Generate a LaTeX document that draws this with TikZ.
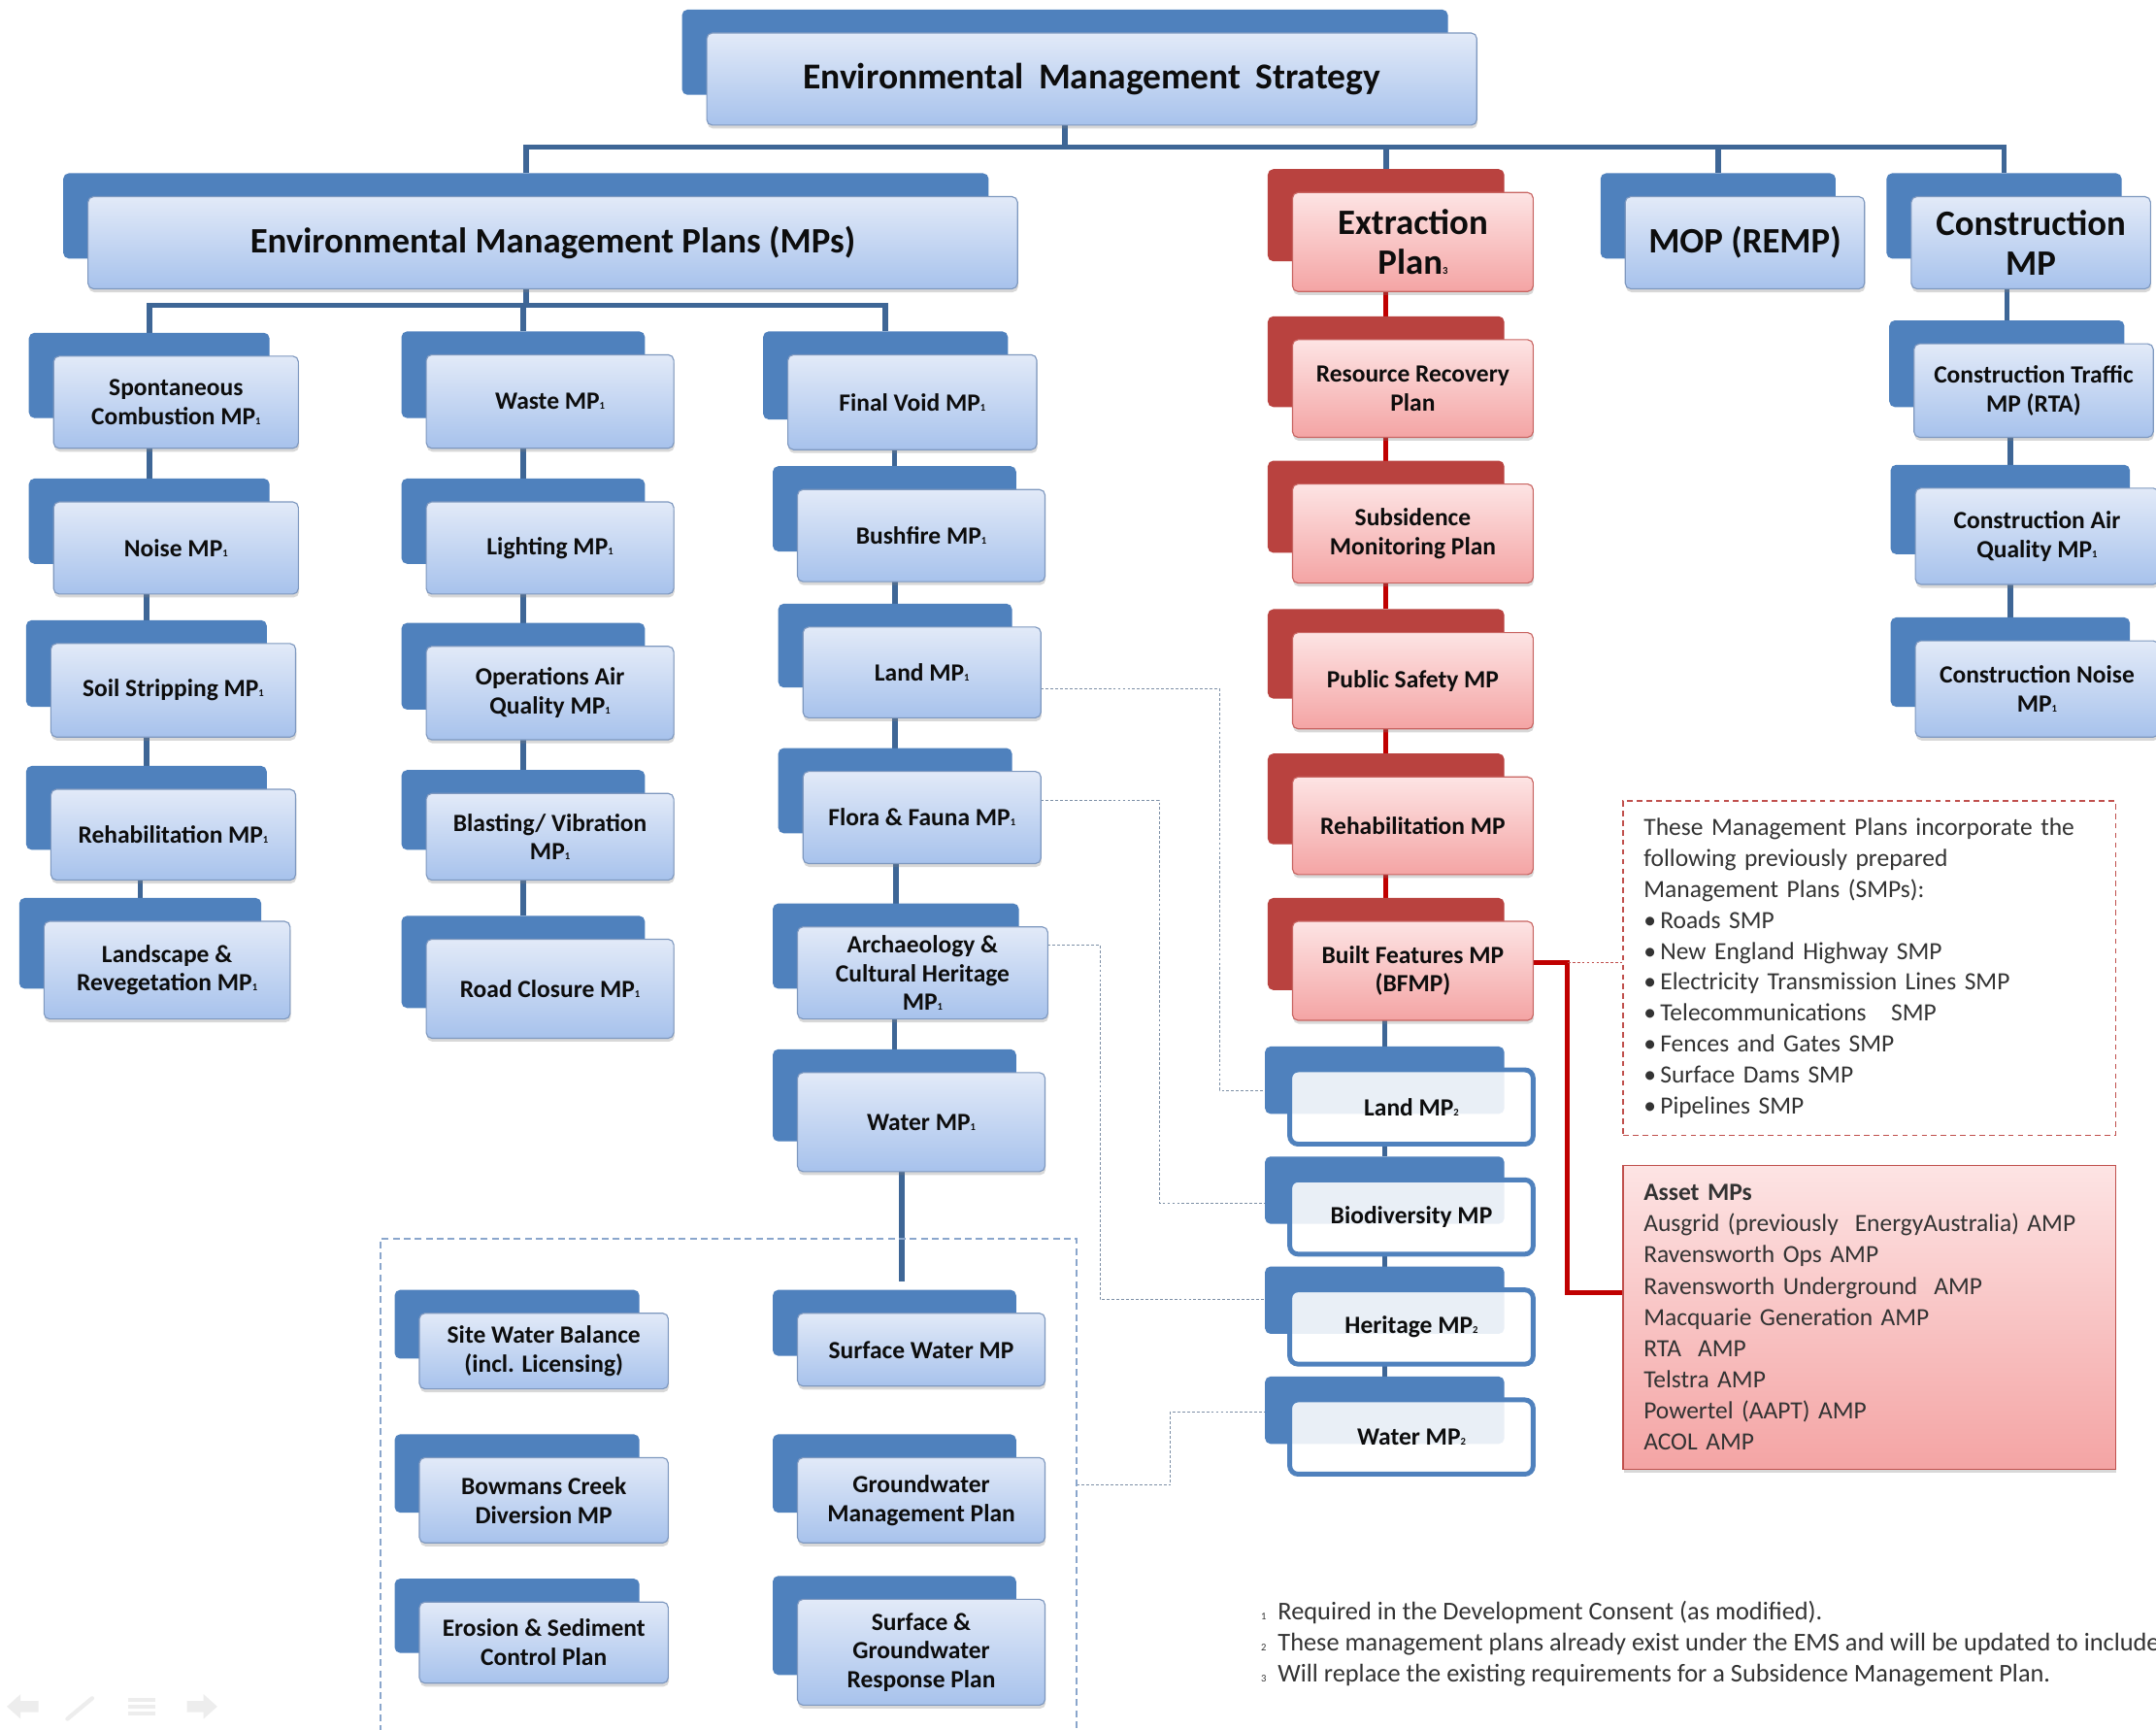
\documentclass[tikz,border=0pt]{standalone}
\usepackage{fontspec}
\setmainfont{Carlito}
\usetikzlibrary{shadows,calc}
\pgfdeclarelayer{bg}
\pgfsetlayers{bg,main}

\definecolor{tabblue}{HTML}{4F81BD}
\definecolor{linkblue}{HTML}{3E6696}
\definecolor{faceTop}{HTML}{E2EAF8}
\definecolor{faceBot}{HTML}{A7C2EC}
\definecolor{faceRim}{HTML}{7E98BF}
\definecolor{tabred}{HTML}{B9423F}
\definecolor{redTop}{HTML}{FDE4E4}
\definecolor{redBot}{HTML}{F4A4A4}
\definecolor{redRim}{HTML}{C86461}
\definecolor{linkred}{HTML}{C00000}
\definecolor{dashgrey}{HTML}{7D8FA6}
\definecolor{boxdash}{HTML}{8AA6CC}
\definecolor{notered}{HTML}{C0504D}
\definecolor{notecol}{HTML}{333333}
\definecolor{navgrey}{HTML}{EDEDED}

% small index digit used for the footnote markers
\newcommand\ix[1]{{\fontsize{7.5}{7.5}\selectfont #1}}

% a plan box: dark tab behind, shaded face in front
% [extra face options]{kind}{name}{left}{top}{right}{bottom}{label}
\newcommand\mpbox[8][]{%
  \node[#2 tab, minimum width={#6-#4-3}, minimum height={#7-#5-5}] (#3T) at ({#4-18},{#5-17}) {};
  \node[#2 face, minimum width={#6-#4}, minimum height={#7-#5}, #1] (#3) at (#4,#5) {#8};}

\tikzset{
  tab/.style={anchor=north west, rounded corners=4pt, inner sep=0pt, outer sep=0pt},
  face/.style={anchor=north west, rounded corners=4pt, inner sep=0pt, outer sep=0pt,
    align=center, font=\fontsize{18}{21}\selectfont\bfseries, text=black!95},
  boxshadow/.style={drop shadow={shadow xshift=0.5pt, shadow yshift=-2.5pt, opacity=0.3}},
  blue tab/.style={tab, fill=tabblue},
  blue face/.style={face, top color=faceTop, bottom color=faceBot, draw=faceRim,
    line width=0.8pt, boxshadow},
  red tab/.style={tab, fill=tabred},
  red face/.style={face, top color=redTop, bottom color=redBot, draw=redRim,
    line width=0.8pt, boxshadow},
  rim tab/.style={tab, fill=tabblue},
  rim face/.style={face, fill=white, fill opacity=0.88, text opacity=1, draw=tabblue,
    line width=3.5pt, rounded corners=6pt},
  head/.style={font=\fontsize{26}{29}\selectfont\bfseries},
  tophead/.style={font=\fontsize{26.5}{29}\selectfont\bfseries},
  link/.style={draw=linkblue, line width=4pt},
  redlink/.style={draw=linkred, line width=3.5pt},
  dlink/.style={draw=dashgrey, line width=0.8pt, dash pattern=on 2pt off 1.5pt},
  reddash/.style={draw=notered, line width=0.8pt, dash pattern=on 2pt off 1.5pt},
  group/.style={anchor=north west, draw=boxdash, line width=1.3pt,
    dash pattern=on 5pt off 3pt, inner sep=0pt},
  notebox/.style={anchor=north west, draw=notered, line width=1pt,
    dash pattern=on 4pt off 3pt, inner xsep=15pt, inner ysep=0pt, align=left,
    text width=328pt, font=\fontsize{18}{22.5}\selectfont, text=notecol},
  assetbox/.style={anchor=north west, top color=redTop, bottom color=redBot,
    draw=notered, line width=0.8pt, boxshadow, inner xsep=15pt, inner ysep=0pt,
    align=left, text width=328pt, font=\fontsize{18}{22.6}\selectfont, text=notecol},
  footnotes/.style={anchor=north west, inner sep=0pt, align=left,
    font=\fontsize{18.6}{22.6}\selectfont, text=notecol},
}

\begin{document}
\begin{tikzpicture}[x=1pt, y=-1pt]
\useasboundingbox (0,0) rectangle (1568,1258);
\begin{pgfonlayer}{bg}
  \fill[white] (0,0) rectangle (1568,1258);
\end{pgfonlayer}
\clip (0,0) rectangle (1568,1258);

% ---------- top of the hierarchy ----------
\mpbox[tophead]{blue}{ems}{514}{24}{1074}{91}{Environmental\hspace{0.4em}Management\hspace{0.4em}Strategy}
\mpbox[head]{blue}{emp}{64}{143}{740}{210}{Environmental Management Plans (MPs)}
\mpbox[head]{red}{ext}{940}{140}{1115}{212}{Extraction\\Plan\ix{3}}
\mpbox[head]{blue}{mop}{1182}{143}{1356}{210}{MOP (REMP)}
\mpbox[head]{blue}{con}{1390}{143}{1564}{210}{Construction\\MP}

% ---------- environmental management plans ----------
\mpbox{blue}{sc}{39}{259}{217}{326}{Spontaneous\\Combustion MP\ix{1}}
\mpbox{blue}{noise}{39}{365}{217}{432}{Noise MP\ix{1}}
\mpbox{blue}{soil}{37}{468}{215}{536}{Soil Stripping MP\ix{1}}
\mpbox{blue}{rehab}{37}{574}{215}{640}{Rehabilitation MP\ix{1}}
\mpbox{blue}{lsr}{32}{670}{211}{741}{Landscape \&\\Revegetation MP\ix{1}}

\mpbox{blue}{waste}{310}{258}{490}{326}{Waste MP\ix{1}}
\mpbox{blue}{light}{310}{365}{490}{432}{Lighting MP\ix{1}}
\mpbox{blue}{opair}{310}{470}{490}{538}{Operations Air\\Quality MP\ix{1}}
\mpbox{blue}{blast}{310}{577}{490}{640}{Blasting/ Vibration\\MP\ix{1}}
\mpbox{blue}{road}{310}{683}{490}{755}{Road Closure MP\ix{1}}

\mpbox{blue}{fvoid}{573}{258}{754}{327}{Final Void MP\ix{1}}
\mpbox{blue}{bush}{580}{356}{760}{423}{Bushfire MP\ix{1}}
\mpbox{blue}{landA}{584}{456}{757}{522}{Land MP\ix{1}}
\mpbox{blue}{flora}{584}{561}{757}{628}{Flora \& Fauna MP\ix{1}}
\mpbox{blue}{arch}{580}{674}{762}{741}{Archaeology \&\\Cultural Heritage\\MP\ix{1}}
\mpbox{blue}{waterA}{580}{780}{760}{852}{Water MP\ix{1}}

% ---------- water plans group ----------
\node[group, minimum width=506, minimum height=370] (wgroup) at (276,900) {};
\mpbox{blue}{swb}{305}{955}{486}{1010}{Site Water Balance\\(incl. Licensing)}
\mpbox{blue}{sw}{580}{955}{760}{1008}{Surface Water MP}
\mpbox{blue}{bcd}{305}{1060}{486}{1122}{Bowmans Creek\\Diversion MP}
\mpbox{blue}{gw}{580}{1060}{760}{1122}{Groundwater\\Management Plan}
\mpbox{blue}{esc}{305}{1165}{486}{1224}{Erosion \& Sediment\\Control Plan}
\mpbox{blue}{sgr}{580}{1163}{760}{1240}{Surface \&\\Groundwater\\Response Plan}

% ---------- extraction plan ----------
\mpbox{red}{rrp}{940}{247}{1115}{318}{Resource Recovery\\Plan}
\mpbox{red}{smp}{940}{352}{1115}{424}{Subsidence\\Monitoring Plan}
\mpbox{red}{psmp}{940}{460}{1115}{530}{Public Safety MP}
\mpbox{red}{rhmp}{940}{565}{1115}{636}{Rehabilitation MP}
\mpbox{red}{bfmp}{940}{670}{1115}{742}{Built Features MP\\(BFMP)}

\mpbox{rim}{landB}{938}{778}{1115}{832}{Land MP\ix{2}}
\mpbox{rim}{bio}{938}{858}{1115}{912}{Biodiversity MP}
\mpbox{rim}{her}{938}{938}{1115}{992}{Heritage MP\ix{2}}
\mpbox{rim}{waterB}{938}{1018}{1115}{1072}{Water MP\ix{2}}

% ---------- construction ----------
\mpbox{blue}{ctr}{1392}{250}{1566}{318}{Construction Traffic\\MP (RTA)}
\mpbox{blue}{cair}{1393}{355}{1570}{425}{Construction Air\\Quality MP\ix{1}}
\mpbox{blue}{cnoise}{1393}{466}{1570}{536}{Construction Noise\\MP\ix{1}}

% ---------- notes ----------
\node[notebox, minimum height=243] (note) at (1180,582) {%
These Management Plans incorporate the\\
following previously prepared\\
Management Plans (SMPs):\\
\textbullet\,Roads SMP\\
\textbullet\,New England Highway SMP\\
\textbullet\,Electricity Transmission Lines SMP\\
\textbullet\,Telecommunications\ \ \ SMP\\
\textbullet\,Fences and Gates SMP\\
\textbullet\,Surface Dams SMP\\
\textbullet\,Pipelines SMP};

\node[assetbox, minimum height=221] (asset) at (1180,847) {%
\textbf{Asset MPs}\\
Ausgrid (previously\ \ EnergyAustralia) AMP\\
Ravensworth Ops AMP\\
Ravensworth Underground\ \ AMP\\
Macquarie Generation AMP\\
RTA\ \ AMP\\
Telstra AMP\\
Powertel (AAPT) AMP\\
ACOL AMP};

\node[footnotes] (fnotes) at (917,1164) {%
\ix{1}\hspace{0.45em}Required in the Development Consent (as modified).\\
\ix{2}\hspace{0.45em}These management plans already exist under the EMS and will be updated to include\\
\ix{3}\hspace{0.45em}Will replace the existing requirements for a Subsidence Management Plan.};

% ---------- slide navigation glyphs ----------
\fill[navgrey] (5,1241) -- (15,1232) -- (15,1237) -- (28,1237) -- (28,1245) -- (15,1245) -- (15,1250) -- cycle;
\draw[navgrey, line width=3pt, line cap=round] (49,1250) -- (67,1235);
\foreach \yy in {1236,1241,1246} \draw[navgrey, line width=3pt] (93,\yy) -- (113,\yy);
\fill[navgrey] (158,1241) -- (148,1232) -- (148,1237) -- (136,1237) -- (136,1245) -- (148,1245) -- (148,1250) -- cycle;

% ---------- connectors ----------
\begin{pgfonlayer}{bg}
  \coordinate (topbar) at (775,107);
  \draw[link] (emsT |- ems.south) -- (emsT |- topbar);
  \draw[link] (empT.north) |- (conT.north |- topbar) -- (conT.north);
  \draw[link] (extT.north) -- (extT.north |- topbar);
  \draw[link] (mopT.north) -- (mopT.north |- topbar);

  \coordinate (empbar) at (0,222);
  \draw[link] (empT |- emp.south) -- (empT |- empbar);
  \draw[link] (scT.north) |- (fvoidT.north |- empbar) -- (fvoidT.north);
  \draw[link] (wasteT.north) -- (wasteT.north |- empbar);

  \foreach \ua/\ub in {sc/noise, noise/soil, soil/rehab, rehab/lsr,
                       waste/light, light/opair, opair/blast, blast/road,
                       fvoid/bush, bush/landA, landA/flora, flora/arch, arch/waterA,
                       bfmp/landB, landB/bio, bio/her, her/waterB,
                       con/ctr, ctr/cair, cair/cnoise}
    \draw[link] (\ub T.north) -- (\ub T.north |- \ua.south);

  \foreach \ua/\ub in {ext/rrp, rrp/smp, smp/psmp, psmp/rhmp, rhmp/bfmp}
    \draw[redlink] (\ub T.north) -- (\ub T.north |- \ua.south);

  \coordinate (wdrop) at (656,932);
  \draw[link] (wdrop |- waterA.south) -- (wdrop);

  \draw[dlink] (landA.east |- 0,501) -| (887,793) -- (landBT.west |- 0,793);
  \draw[dlink] (flora.east |- 0,582) -| (843,875) -- (bioT.west |- 0,875);
  \draw[dlink] (arch.east |- 0,687) -| (800,945) -- (herT.west |- 0,945);
  \draw[dlink] (wgroup.east |- 0,1080) -| (851,1027) -- (waterBT.west |- 0,1027);

  \coordinate (rj) at (1140,700);
  \draw[redlink] (bfmp.east |- rj) -- (rj) |- (asset.west |- 0,940);
  \draw[reddash] (rj) -- (note.west |- rj);
\end{pgfonlayer}
\end{tikzpicture}
\end{document}
